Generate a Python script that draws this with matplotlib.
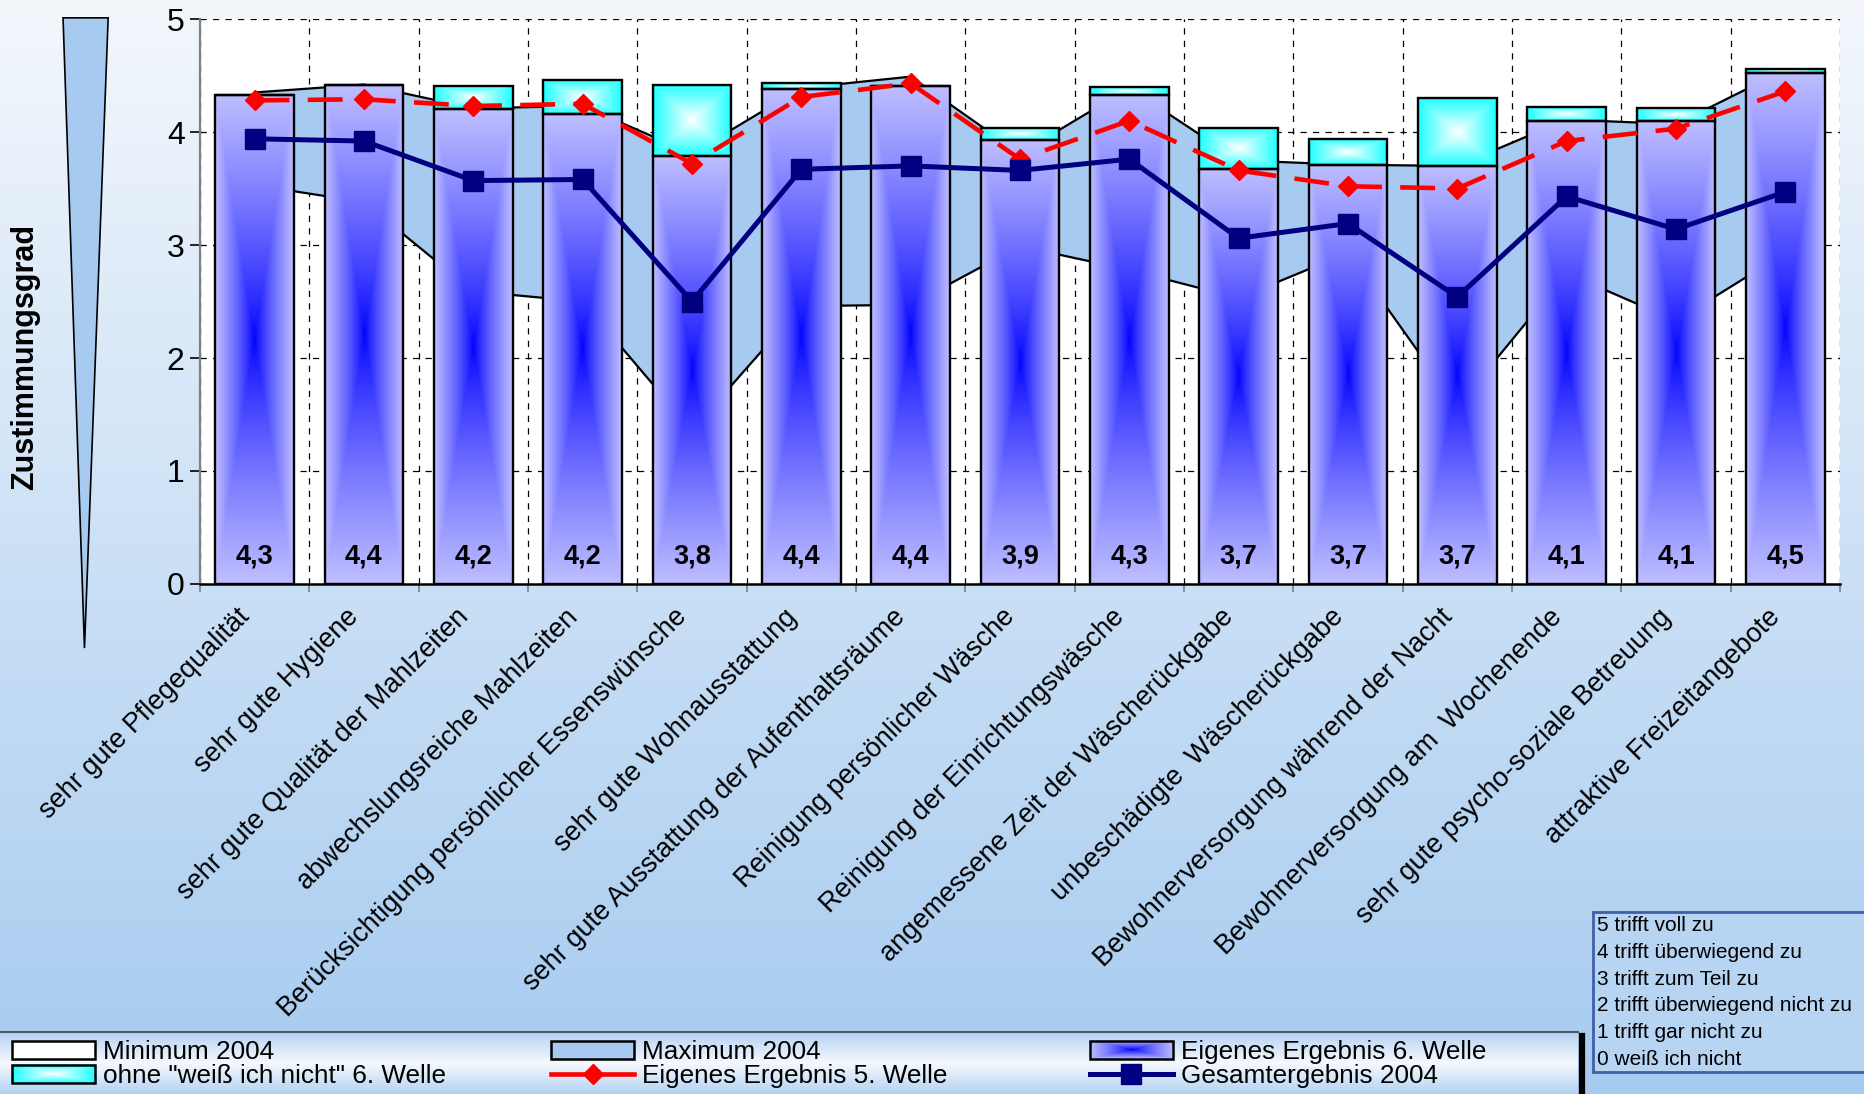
import numpy as np
import matplotlib
matplotlib.use("Agg")
import matplotlib.pyplot as plt
from matplotlib.patches import Rectangle, Polygon
from matplotlib.lines import Line2D
from matplotlib.legend_handler import HandlerBase
from matplotlib.image import BboxImage
from matplotlib.transforms import Bbox, TransformedBbox

plt.rcParams["font.family"] = ["Liberation Sans", "DejaVu Sans"]

# --- data ---
categories = [
    "sehr gute Pflegequalität",
    "sehr gute Hygiene",
    "sehr gute Qualität der Mahlzeiten",
    "abwechslungsreiche Mahlzeiten",
    "Berücksichtigung persönlicher Essenswünsche",
    "sehr gute Wohnausstattung",
    "sehr gute Ausstattung der Aufenthaltsräume",
    "Reinigung persönlicher Wäsche",
    "Reinigung der Einrichtungswäsche",
    "angemessene Zeit der Wäscherückgabe",
    "unbeschädigte  Wäscherückgabe",
    "Bewohnerversorgung während der Nacht",
    "Bewohnerversorgung am  Wochenende",
    "sehr gute psycho-soziale Betreuung",
    "attraktive Freizeitangebote",
]
eigen_6 = [4.33, 4.42, 4.20, 4.16, 3.79, 4.38, 4.41, 3.93, 4.33, 3.67, 3.71, 3.70, 4.10, 4.10, 4.52]
ohne_wn_6 = [4.33, 4.42, 4.41, 4.46, 4.42, 4.43, 4.41, 4.04, 4.40, 4.04, 3.94, 4.30, 4.22, 4.21, 4.56]
eigen_5 = [4.28, 4.29, 4.23, 4.25, 3.72, 4.31, 4.43, 3.76, 4.10, 3.66, 3.52, 3.50, 3.92, 4.03, 4.36]
gesamt_2004 = [3.94, 3.92, 3.57, 3.58, 2.50, 3.67, 3.70, 3.66, 3.76, 3.06, 3.19, 2.54, 3.43, 3.14, 3.47]
max_2004 = [4.35, 4.42, 4.21, 4.23, 3.81, 4.39, 4.49, 3.81, 4.39, 3.75, 3.71, 3.70, 4.11, 4.07, 4.55]
min_2004 = [3.53, 3.38, 2.59, 2.50, 1.36, 2.46, 2.47, 2.99, 2.78, 2.53, 2.93, 1.57, 2.75, 2.33, 2.93]
scale_lines = [
    "5 trifft voll zu",
    "4 trifft überwiegend zu",
    "3 trifft zum Teil zu",
    "2 trifft überwiegend nicht zu",
    "1 trifft gar nicht zu",
    "0 weiß ich nicht",
]

AREA_BLUE = "#A6CAF0"


def centre_gradient(inner, outer, n=240, gamma=1.0):
    # "from centre" fill: rectangular rings from inner colour to outer colour
    u = np.abs(np.linspace(-1, 1, n))
    t = np.maximum(u[None, :], u[:, None])[..., None] ** gamma
    inner = np.array(inner) / 255.0
    outer = np.array(outer) / 255.0
    return inner + t * (outer - inner)


blue_img = centre_gradient((0, 0, 255), (190, 190, 255), gamma=0.8)
cyan_img = centre_gradient((255, 255, 255), (30, 255, 255))


class GradientHandler(HandlerBase):
    def __init__(self, rgb):
        super().__init__()
        self.rgb = rgb

    def create_artists(self, legend, orig_handle, xdescent, ydescent,
                       width, height, fontsize, trans):
        box = Bbox.from_bounds(-xdescent, -ydescent, width, height)
        img = BboxImage(TransformedBbox(box, trans), interpolation="bilinear")
        img.set_data(self.rgb)
        frame = Rectangle((-xdescent, -ydescent), width, height, fc="none",
                          ec="black", lw=1.8, transform=trans)
        return [img, frame]


fig = plt.figure(figsize=(18.65, 10.94), dpi=100)

# page background gradient
bg = fig.add_axes([0, 0, 1, 1], zorder=-10)
v = np.linspace(0, 1, 256)[:, None, None]
top_c = np.array([243, 247, 252]) / 255
bot_c = np.array([166, 203, 240]) / 255
bg.imshow(top_c + v * (bot_c - top_c), aspect="auto", extent=(0, 1, 0, 1))
bg.axis("off")

ax = fig.add_axes([0.1072, 0.4662, 0.8794, 0.5164])
ax.set_facecolor("white")
x = np.arange(len(categories))
w = 0.72

# 2004 min/max band
ax.fill_between(x, min_2004, max_2004, color=AREA_BLUE, lw=0, zorder=2)
ax.plot(x, max_2004, color="black", lw=1.6, zorder=2.5)
ax.plot(x, min_2004, color="black", lw=1.6, zorder=2.5)

# own result bars with centre gradient
ax.bar(x, eigen_6, width=w, fill=False, edgecolor="black", lw=1.7, zorder=4)
extra = np.array(ohne_wn_6) - np.array(eigen_6)
ax.bar(x, extra, bottom=eigen_6, width=w, fill=False, edgecolor="black", lw=1.7, zorder=4)
for xi, h, top in zip(x, eigen_6, ohne_wn_6):
    ax.imshow(blue_img, extent=(xi - w / 2, xi + w / 2, 0, h), origin="lower",
              aspect="auto", interpolation="bilinear", zorder=3)
    if top - h > 0.005:
        ax.imshow(cyan_img, extent=(xi - w / 2, xi + w / 2, h, top), origin="lower",
                  aspect="auto", interpolation="bilinear", zorder=3)
    ax.text(xi, 0.24, f"{h:.1f}".replace(".", ","), ha="center", va="center",
            fontsize=19.5, fontweight="bold", zorder=8)

ax.plot(x, eigen_5, color="red", lw=3.3, ls=(0, (7.6, 4.0)), marker="D", ms=10.5,
        mec="red", mfc="red", zorder=6)
ax.plot(x, gesamt_2004, color="#000080", lw=3.6, marker="s", ms=14, zorder=7)

ax.set_xlim(-0.5, len(categories) - 0.5)
ax.set_ylim(0, 5)
ax.set_yticks(range(6))
ax.set_xticks(np.arange(-0.5, len(categories), 1.0))
# labels sit a touch left of the bar centres, as in the reference
ax.set_xticks(x - 0.08, categories, minor=True)
ax.tick_params(axis="x", which="major", length=6, width=1.2, color="#808080",
               labelbottom=False)
ax.tick_params(axis="x", which="minor", length=0, pad=21, labelsize=19.5)
for lab in ax.get_xticklabels(minor=True):
    lab.set_rotation(45)
    lab.set_ha("right")
    lab.set_va("center")
    lab.set_rotation_mode("anchor")
ax.tick_params(axis="y", labelsize=23, length=7, width=1.2, pad=4)
ax.set_axisbelow(True)
ax.grid(True, which="major", color="black", lw=0.9, ls=(0, (5, 5)))
for side in ("top", "right"):
    ax.spines[side].set_visible(False)
ax.spines["left"].set_color("#808080")
ax.spines["left"].set_linewidth(1.6)
ax.spines["bottom"].set_linewidth(1.8)

# decorative wedge and axis title
fig.add_artist(Polygon([(0.0338, 0.9837), (0.0580, 0.9837), (0.0453, 0.4076)],
                       closed=True, transform=fig.transFigure, fc=AREA_BLUE,
                       ec="black", lw=1.2))
fig.text(0.0134, 0.674, "Zustimmungsgrad", rotation=90, ha="center", va="center",
         fontsize=22, fontweight="bold")

# legend band
lg_bg = fig.add_axes([0, 0, 0.846, 0.0565], zorder=-5)
vv = np.abs(np.linspace(-1, 1, 128))[:, None, None]
mid_c = np.array([246, 249, 253]) / 255
edge_c = np.array([180, 210, 242]) / 255
lg_bg.imshow(mid_c + vv * (edge_c - mid_c), aspect="auto", extent=(0, 1, 0, 1))
lg_bg.axis("off")
fig.add_artist(Line2D([0, 0.846], [0.0565, 0.0565], color="#505860", lw=1.5,
                      transform=fig.transFigure))
fig.add_artist(Line2D([0.8485, 0.8485], [0, 0.053], color="black", lw=4.5,
                      transform=fig.transFigure))

min_h = Rectangle((0, 0), 1, 1, fc="white", ec="black", lw=1.8)
max_h = Rectangle((0, 0), 1, 1, fc=AREA_BLUE, ec="black", lw=1.8)
blue_h = Rectangle((0, 0), 1, 1)
cyan_h = Rectangle((0, 0), 1, 1)
red_h = Line2D([], [], color="red", lw=3.3, marker="D", ms=10.5)
navy_h = Line2D([], [], color="#000080", lw=3.6, marker="s", ms=14)
hmap = {blue_h: GradientHandler(blue_img), cyan_h: GradientHandler(cyan_img)}

columns = [
    (0.0064, [min_h, cyan_h], ["Minimum 2004", 'ohne "weiß ich nicht" 6. Welle']),
    (0.2953, [max_h, red_h], ["Maximum 2004", "Eigenes Ergebnis 5. Welle"]),
    (0.5842, [blue_h, navy_h], ["Eigenes Ergebnis 6. Welle", "Gesamtergebnis 2004"]),
]
for x0, hs, ls in columns:
    fig.legend(hs, ls, loc="center left", bbox_to_anchor=(x0, 0.0274),
               frameon=False, borderpad=0, borderaxespad=0, handlelength=3.2,
               handleheight=0.7, handletextpad=0.3, labelspacing=0.0,
               fontsize=18.8, handler_map=hmap)

# answer scale box
fig.add_artist(Rectangle((0.854, 0.0201), 0.2, 0.1463, transform=fig.transFigure,
                         fc="#B7D4F3", ec="#3F5FA8", lw=2))
for i, line in enumerate(scale_lines):
    fig.text(0.8563, 0.1538 - i * 0.02443, line, ha="left", va="center", fontsize=15)

fig.savefig("out.png", dpi=100)
